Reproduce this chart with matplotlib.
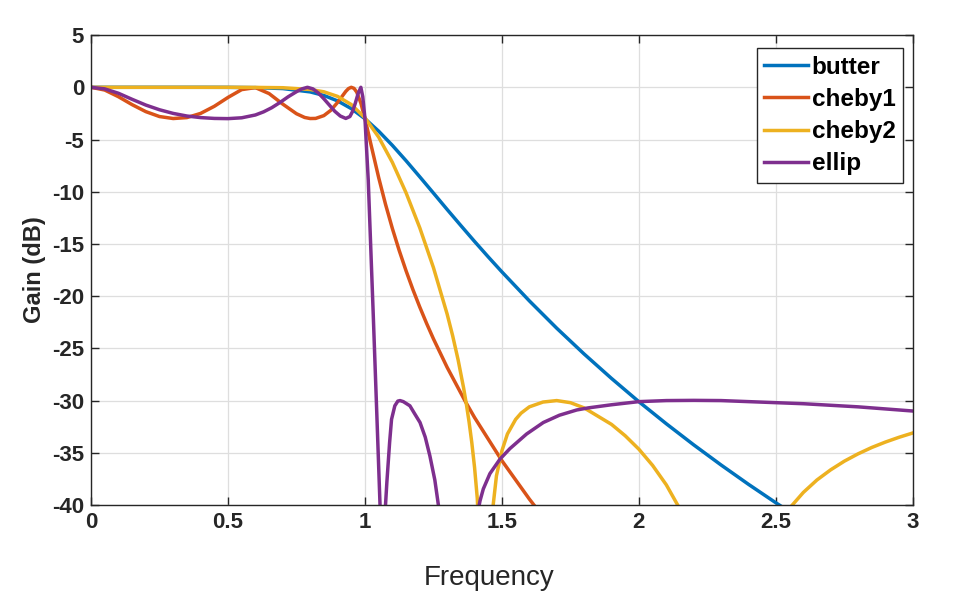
import matplotlib
matplotlib.use("Agg")
import matplotlib.pyplot as plt

plt.rcParams["font.family"] = ["Liberation Sans", "DejaVu Sans"]
plt.rcParams["axes.unicode_minus"] = False

# gain curves (frequency, dB)
butter_f = [0, 0.2, 0.4, 0.5, 0.6, 0.7, 0.8, 0.85, 0.9, 0.95, 1.0, 1.05, 1.1, 1.15,
            1.2, 1.25, 1.3, 1.35, 1.4, 1.45, 1.5, 1.6, 1.7, 1.8, 1.9, 2.0, 2.1,
            2.2, 2.3, 2.4, 2.5, 2.6]
butter_db = [0, 0, 0, -0.004, -0.03, -0.12, -0.44, -0.78, -1.30, -2.04, -3.01, -4.20,
             -5.56, -7.03, -8.57, -10.13, -11.70, -13.24, -14.76, -16.24, -17.68,
             -20.45, -23.07, -25.54, -27.88, -30.11, -32.22, -34.24, -36.17, -38.02,
             -39.79, -41.5]

cheby1_f = [0, 0.05, 0.1, 0.15, 0.2, 0.25, 0.3, 0.35, 0.4, 0.45, 0.5, 0.55, 0.6,
            0.65, 0.7, 0.75, 0.78, 0.8, 0.82, 0.85, 0.875, 0.9, 0.91, 0.93, 0.94,
            0.95, 0.96, 0.97, 0.985, 1.0, 1.01, 1.02, 1.05, 1.075, 1.1, 1.125, 1.15,
            1.175, 1.2, 1.225, 1.25, 1.3, 1.365, 1.4, 1.5, 1.6, 1.65]
cheby1_db = [0, -0.26, -0.90, -1.66, -2.33, -2.80, -2.99, -2.90, -2.50, -1.82, -0.97,
             -0.22, -0.03, -0.60, -1.61, -2.53, -2.89, -2.99, -2.98, -2.71, -2.21,
             -1.45, -1.10, -0.39, -0.12, 0, -0.10, -0.46, -1.51, -3.0, -4.12, -5.27,
             -8.64, -11.2, -13.52, -15.63, -17.57, -19.37, -21.04, -22.61, -24.09,
             -26.82, -30.02, -31.62, -35.76, -39.43, -41.12]

cheby2_f = [0, 0.3, 0.5, 0.6, 0.7, 0.8, 0.85, 0.9, 0.95, 1.0, 1.05, 1.1, 1.15, 1.2,
            1.25, 1.3, 1.32, 1.34, 1.36, 1.37, 1.38, 1.39, 1.4, 1.41, 1.425, 1.437,
            1.45, 1.468, 1.48, 1.5, 1.52, 1.55, 1.57, 1.6, 1.65, 1.7, 1.75, 1.8, 1.9,
            1.95, 2.0, 2.05, 2.1, 2.15, 2.2, 2.25, 2.327, 2.4, 2.5, 2.55, 2.6, 2.65,
            2.7, 2.75, 2.8, 2.85, 2.9, 2.95, 3.0]
cheby2_db = [0, 0, 0, -0.01, -0.04, -0.21, -0.43, -0.87, -1.65, -2.92, -4.77, -7.19,
             -10.10, -13.45, -17.27, -21.72, -23.78, -26.10, -28.78, -30.32, -32.04,
             -34.03, -36.39, -39.36, -48.0, -65, -50.0, -40.0, -37.2, -34.8, -33.2,
             -31.8, -31.2, -30.6, -30.14, -30.0, -30.2, -30.7, -32.28, -33.37,
             -34.66, -36.21, -38.07, -40.4, -43.5, -48.0, -65, -49.3, -42.25, -40.3,
             -38.8, -37.6, -36.63, -35.8, -35.1, -34.49, -33.97, -33.51, -33.1]

ellip_f = [0, 0.05, 0.1, 0.15, 0.2, 0.25, 0.3, 0.35, 0.4, 0.45, 0.5, 0.55, 0.6, 0.63,
           0.66, 0.69, 0.72, 0.75, 0.77, 0.79, 0.81, 0.83, 0.85, 0.87, 0.89, 0.91,
           0.93, 0.945, 0.955, 0.965, 0.975, 0.985, 0.992, 1.0, 1.012, 1.03, 1.043,
           1.055, 1.063, 1.075, 1.08, 1.085, 1.09, 1.097, 1.109, 1.12, 1.128, 1.14,
           1.164, 1.18, 1.201, 1.22, 1.237, 1.255, 1.268, 1.34, 1.417, 1.42, 1.432,
           1.456, 1.493, 1.529, 1.59, 1.651, 1.71, 1.773, 1.815, 1.9, 2.0, 2.1, 2.2,
           2.3, 2.4, 2.5, 2.6, 2.7, 2.8, 2.9, 3.0]
ellip_db = [0, -0.15, -0.57, -1.15, -1.7, -2.15, -2.5, -2.75, -2.9, -2.98, -3.0, -2.92,
            -2.65, -2.35, -1.95, -1.45, -0.9, -0.42, -0.15, 0, -0.15, -0.55, -1.1,
            -1.7, -2.3, -2.75, -2.98, -2.8, -2.3, -1.5, -0.6, 0, -0.9, -3.0, -8.9,
            -21.6, -31.1, -40, -60, -40, -37.8, -35.9, -34.0, -31.8, -30.5, -30.05,
            -30.0, -30.1, -30.5, -31.2, -32.1, -33.5, -35.3, -37.6, -40, -60, -40,
            -39.6, -38.46, -37.0, -35.6, -34.6, -33.2, -32.1, -31.4, -30.9, -30.7,
            -30.4, -30.1, -30.0, -29.98, -30.0, -30.1, -30.2, -30.3, -30.45, -30.6,
            -30.8, -31.0]

names = ["butter", "cheby1", "cheby2", "ellip"]
colors = ["#0072BD", "#D95319", "#EDB120", "#7E2F8E"]

xticks = [0, 0.5, 1, 1.5, 2, 2.5, 3]
xticklabels = ["0", "0.5", "1", "1.5", "2", "2.5", "3"]
yticks = list(range(-40, 6, 5))

fig = plt.figure(figsize=(9.59, 6.04), dpi=100)
ax = fig.add_axes([0.0949, 0.1639, 0.857, 0.778])

series = [(butter_f, butter_db), (cheby1_f, cheby1_db),
          (cheby2_f, cheby2_db), (ellip_f, ellip_db)]
for (f, g), name, c in zip(series, names, colors):
    ax.plot(f, g, color=c, linewidth=2.5, label=name, solid_joinstyle="round")

ax.set_xlim(0, 3)
ax.set_ylim(-40, 5)
ax.set_xticks(xticks)
ax.set_xticklabels(xticklabels)
ax.set_yticks(yticks)
ax.grid(True, color="#dedede", linewidth=0.9)
ax.set_axisbelow(True)

ax.tick_params(direction="in", length=6, width=1, color="#262626",
               top=True, right=True, labelsize=16, pad=5)
for lab in ax.get_xticklabels() + ax.get_yticklabels():
    lab.set_fontweight("bold")
    lab.set_color("#262626")
for s in ax.spines.values():
    s.set_color("#262626")
    s.set_linewidth(1.0)

ax.set_xlabel("Frequency", fontsize=20, color="#262626", labelpad=23)
ax.xaxis.label.set_x(0.485)
ax.set_ylabel("Gain (dB)", fontsize=17, fontweight="bold", color="#262626", labelpad=4)

leg = ax.legend(loc="upper right", bbox_to_anchor=(0.988, 0.972), borderaxespad=0,
                fancybox=False, framealpha=1, edgecolor="#262626",
                prop={"size": 17.5, "weight": "bold"}, handlelength=1.8,
                handletextpad=0.15, labelspacing=0.38, borderpad=0.3)
leg.get_frame().set_linewidth(1.0)

fig.savefig("out.png", dpi=100)
